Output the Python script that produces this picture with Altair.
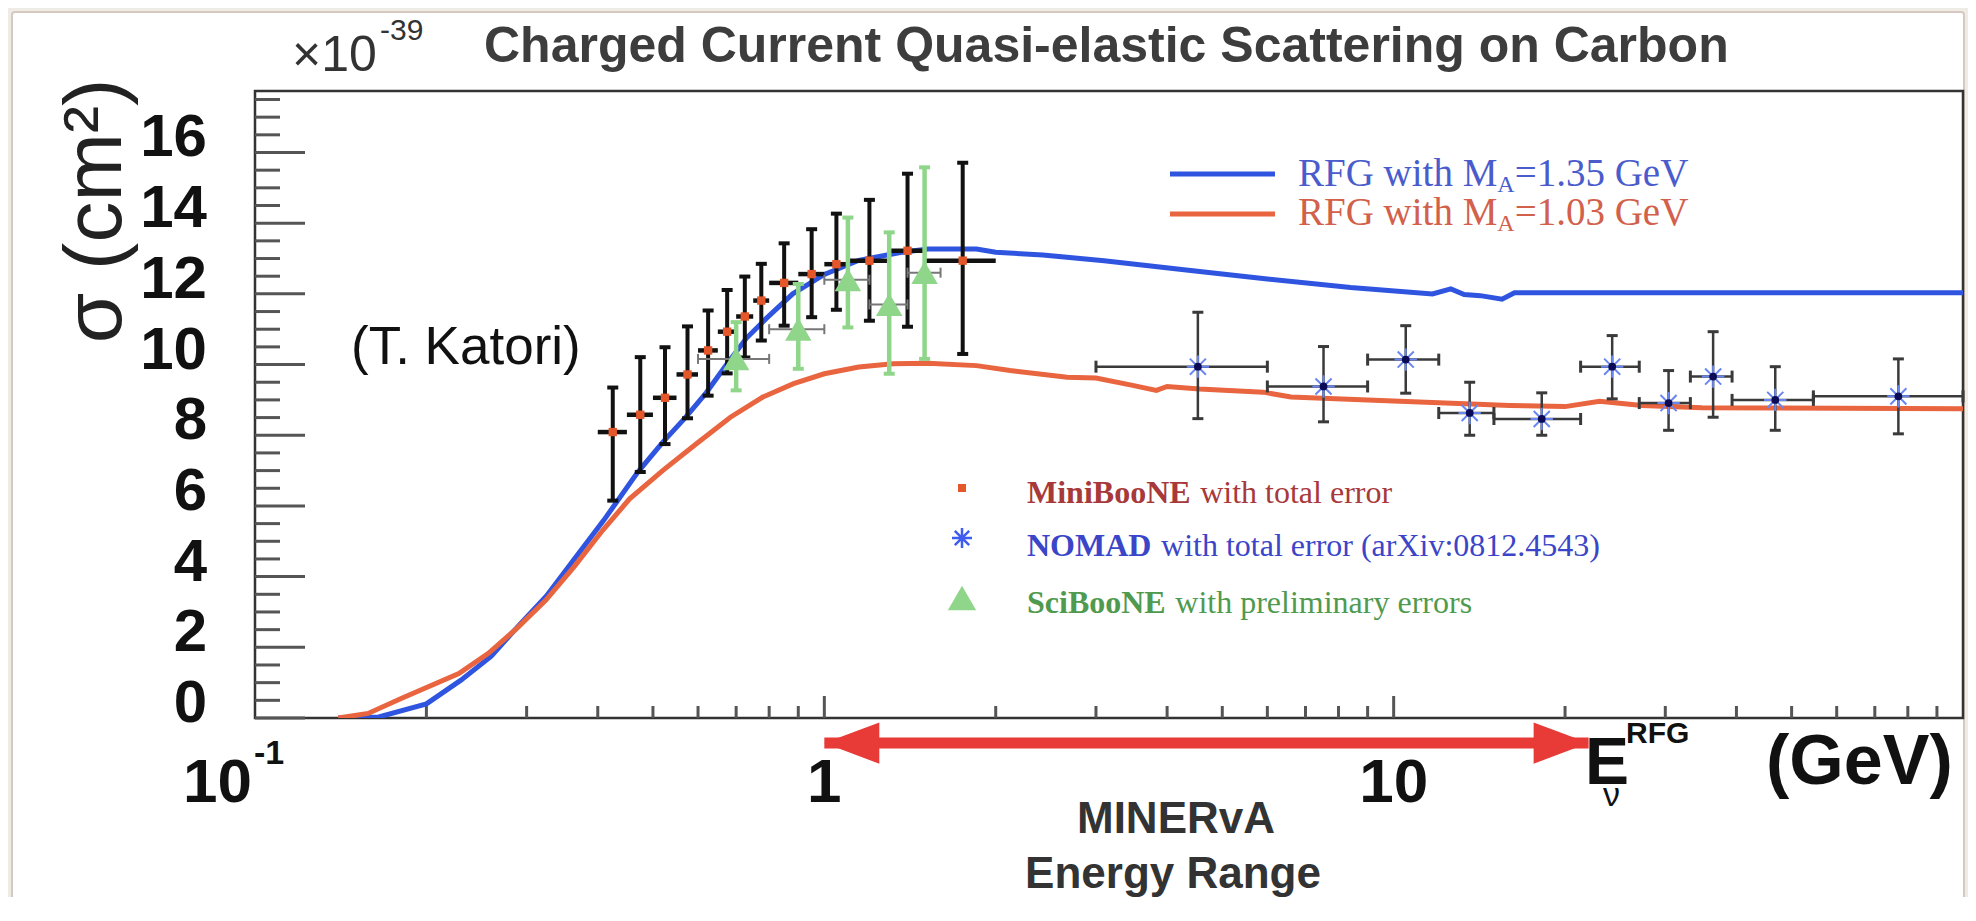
import altair as alt
import pandas as pd

# ---------------- values (sigma in 1e-39 cm^2, E in GeV) ----------------
blue_E = [0.14, 0.165, 0.20, 0.23, 0.26, 0.29, 0.325, 0.36, 0.41, 0.47, 0.52, 0.57, 0.62, 0.67, 0.73,
          0.79, 0.88, 1.0, 1.15, 1.36, 1.52, 1.85, 2.0, 2.42, 3.1, 4.4, 6.0, 8.4, 11.7, 12.6, 13.3,
          14.2, 15.5, 16.3, 100]
blue_sig = [0.0, 0.03, 0.40, 1.07, 1.75, 2.6, 3.45, 4.4, 5.6, 6.95, 7.8, 8.5, 9.2, 9.95, 10.75,
            11.3, 12.0, 12.55, 12.95, 13.17, 13.27, 13.27, 13.18, 13.1, 12.94, 12.66, 12.42, 12.18, 12.0, 12.14,
            11.98, 11.95, 11.85, 12.03, 12.03]
red_E = [0.14, 0.158, 0.181, 0.228, 0.257, 0.288, 0.324, 0.363, 0.408, 0.455, 0.52, 0.596, 0.684, 0.78,
         0.883, 1.0, 1.15, 1.32, 1.52, 1.85, 2.12, 2.67, 3.0, 3.48, 3.83, 4.0, 4.56, 5.9, 6.6, 9.0,
         16.0, 20.0, 23.0, 27.3, 34.8, 100]
red_sig = [0.0, 0.13, 0.56, 1.26, 1.83, 2.53, 3.33, 4.27, 5.31, 6.2, 7.0, 7.76, 8.51, 9.08,
           9.46, 9.74, 9.93, 10.02, 10.04, 9.97, 9.83, 9.64, 9.62, 9.41, 9.27, 9.38, 9.31, 9.22, 9.08, 9.0,
           8.84, 8.81, 8.96, 8.84, 8.78, 8.75]

mb_E = [0.425, 0.475, 0.525, 0.575, 0.625, 0.675, 0.725, 0.775, 0.85, 0.95, 1.05, 1.2, 1.4, 1.75]
mb_Elo = [0.40, 0.45, 0.50, 0.55, 0.60, 0.65, 0.70, 0.75, 0.80, 0.90, 1.0, 1.1, 1.3, 1.5]
mb_Ehi = [0.45, 0.50, 0.55, 0.60, 0.65, 0.70, 0.75, 0.80, 0.90, 1.0, 1.1, 1.3, 1.5, 2.0]
mb_sig = [8.09, 8.58, 9.06, 9.72, 10.40, 10.93, 11.36, 11.81, 12.31, 12.56, 12.84, 12.94, 13.22, 12.94]
mb_lo = [6.15, 6.96, 7.75, 8.48, 9.12, 9.75, 10.2, 10.68, 11.10, 11.34, 11.55, 11.24, 11.07, 10.30]
mb_hi = [9.35, 10.21, 10.49, 11.08, 11.53, 12.11, 12.49, 12.85, 13.43, 13.83, 14.27, 14.66, 15.40, 15.71]

sb_E = [0.70, 0.90, 1.10, 1.30, 1.50]
sb_Elo = [0.60, 0.80, 1.00, 1.20, 1.40]
sb_Ehi = [0.80, 1.00, 1.20, 1.40, 1.60]
sb_sig = [10.16, 11.0, 12.4, 11.7, 12.6]
sb_lo = [9.27, 9.88, 11.05, 9.74, 10.16]
sb_hi = [11.2, 12.28, 14.16, 13.74, 15.58]

nd_E = [4.53, 7.53, 10.5, 13.6, 18.2, 24.2, 30.4, 36.4, 46.8, 77.0]
nd_Elo = [3.0, 6.0, 9.0, 12.0, 15.0, 21.3, 27.0, 33.2, 39.3, 54.6]
nd_Ehi = [6.0, 9.0, 12.0, 15.0, 21.3, 27.0, 33.2, 39.3, 54.6, 100.0]
nd_sig = [9.94, 9.38, 10.14, 8.63, 8.46, 9.94, 8.91, 9.66, 9.00, 9.10]
nd_lo = [8.47, 8.38, 9.19, 8.0, 8.0, 9.03, 8.14, 8.51, 8.14, 8.04]
nd_hi = [11.48, 10.51, 11.10, 9.50, 9.20, 10.82, 9.83, 10.93, 9.94, 10.16]

y_major = [0, 2, 4, 6, 8, 10, 12, 14, 16]
y_minor = [0.5, 1, 1.5, 2.5, 3, 3.5, 4.5, 5, 5.5, 6.5, 7, 7.5, 8.5, 9, 9.5, 10.5, 11, 11.5,
           12.5, 13, 13.5, 14.5, 15, 15.5, 16.5, 17, 17.5]
x_major = [1, 10]
x_minor = [0.2, 0.3, 0.4, 0.5, 0.6, 0.7, 0.8, 0.9, 2, 3, 4, 5, 6, 7, 8, 9,
           20, 30, 40, 50, 60, 70, 80, 90]
x_labels = [1, 10]
arrow_E = [1.0, 22.0]

# ---------------- layout ----------------
X0, Y0 = 255, 91           # plot origin inside the page picture
W, H = 1708, 627
YMAX = 17.74
SANS = "Liberation Sans, Arial, Helvetica, sans-serif"
SERIF = "Liberation Serif, Times New Roman, serif"

xs = alt.Scale(type="log", domain=[0.1, 100])
ys = alt.Scale(domain=[0, YMAX])
X = lambda f: alt.X(f, scale=xs, axis=None)
Y = lambda f: alt.Y(f, scale=ys, axis=None)

one = pd.DataFrame({"a": [0]})


def T(text, x, y, size, weight="normal", color="#111", font=SANS, align="left",
      baseline="alphabetic", angle=None):
    kw = dict(align=align, baseline=baseline, fontSize=size, fontWeight=weight,
              color=color, font=font)
    if angle is not None:
        kw["angle"] = angle
    return alt.Chart(one).mark_text(**kw).encode(
        text=alt.value(text), x=alt.value(x - X0), y=alt.value(y - Y0))


layers = []

# white slide panel
layers.append(alt.Chart(one).mark_rect(fill="white", stroke="#d8c8c2", strokeWidth=2,
                                       cornerRadius=3).encode(
    x=alt.value(12 - X0), x2=alt.value(1964 - X0), y=alt.value(12 - Y0), y2=alt.value(910 - Y0)))

# frame
layers.append(alt.Chart(one).mark_rect(fill=None, stroke="#333", strokeWidth=2.5).encode(
    x=alt.value(0), x2=alt.value(W), y=alt.value(0), y2=alt.value(H)))

# ticks (inside, ROOT style)
layers.append(alt.Chart(pd.DataFrame({"v": y_major})).mark_rule(color="#555", strokeWidth=3).encode(
    y=Y("v:Q"), x=alt.value(0), x2=alt.value(50)))
layers.append(alt.Chart(pd.DataFrame({"v": y_minor})).mark_rule(color="#555", strokeWidth=3).encode(
    y=Y("v:Q"), x=alt.value(0), x2=alt.value(25)))
layers.append(alt.Chart(pd.DataFrame({"v": x_major})).mark_rule(color="#555", strokeWidth=3).encode(
    x=X("v:Q"), y=alt.value(H), y2=alt.value(H - 22)))
layers.append(alt.Chart(pd.DataFrame({"v": x_minor})).mark_rule(color="#555", strokeWidth=3).encode(
    x=X("v:Q"), y=alt.value(H), y2=alt.value(H - 12)))

# tick labels
layers.append(alt.Chart(pd.DataFrame({"v": y_major})).mark_text(
    align="right", baseline="middle", fontSize=60, fontWeight="bold", font=SANS, color="#111", dy=-14).encode(
    y=Y("v:Q"), x=alt.value(207 - X0), text="v:Q"))
layers.append(alt.Chart(pd.DataFrame({"v": x_labels})).mark_text(
    align="center", baseline="alphabetic", fontSize=62, fontWeight="bold", font=SANS, color="#111").encode(
    x=X("v:Q"), y=alt.value(802 - Y0), text="v:Q"))
layers.append(T("10", 252, 802, 62, "bold", align="right"))
layers.append(T("-1", 254, 764, 34, "bold"))

# curves
curves = pd.DataFrame({"E": blue_E + red_E, "s": blue_sig + red_sig,
                       "m": ["b"] * len(blue_E) + ["r"] * len(red_E)})
layers.append(alt.Chart(curves).mark_line(strokeWidth=5, clip=True).encode(
    x=X("E:Q"), y=Y("s:Q"), detail="m:N",
    color=alt.Color("m:N", scale=alt.Scale(domain=["b", "r"], range=["#2f55e0", "#e8653f"]), legend=None)))

# NOMAD
nd = pd.DataFrame({"E": nd_E, "lo": nd_Elo, "hi": nd_Ehi, "s": nd_sig, "slo": nd_lo, "shi": nd_hi})
ndc = pd.DataFrame({"E": nd_E + nd_E, "s": nd_lo + nd_hi})
ndh = pd.DataFrame({"E": nd_Elo + nd_Ehi, "s": nd_sig + nd_sig})
layers.append(alt.Chart(nd).mark_rule(color="#3a3a3a", strokeWidth=2.5).encode(
    x=X("E:Q"), y=Y("slo:Q"), y2="shi:Q"))
layers.append(alt.Chart(nd).mark_rule(color="#3a3a3a", strokeWidth=2.5).encode(
    x=X("lo:Q"), x2="hi:Q", y=Y("s:Q")))
layers.append(alt.Chart(ndc).mark_point(shape="M-1,0L1,0", filled=False, size=121, strokeWidth=3,
                                        color="#3a3a3a", opacity=1).encode(x=X("E:Q"), y=Y("s:Q")))
layers.append(alt.Chart(ndh).mark_point(shape="M0,-1L0,1", filled=False, size=144, strokeWidth=3,
                                        color="#3a3a3a", opacity=1).encode(x=X("E:Q"), y=Y("s:Q")))
STAR = "M-1,0L1,0M0,-1L0,1M-0.72,-0.72L0.72,0.72M-0.72,0.72L0.72,-0.72"
layers.append(alt.Chart(nd).mark_point(shape=STAR, filled=False, size=500, strokeWidth=2,
                                       color="#6a86f2", opacity=1).encode(x=X("E:Q"), y=Y("s:Q")))
layers.append(alt.Chart(nd).mark_circle(size=60, color="#0b0b55", opacity=1).encode(
    x=X("E:Q"), y=Y("s:Q")))

# MiniBooNE
mb = pd.DataFrame({"E": mb_E, "lo": mb_Elo, "hi": mb_Ehi, "s": mb_sig, "slo": mb_lo, "shi": mb_hi})
mbc = pd.DataFrame({"E": mb_E + mb_E, "s": mb_lo + mb_hi})
layers.append(alt.Chart(mb).mark_rule(color="#111", strokeWidth=4).encode(
    x=X("E:Q"), y=Y("slo:Q"), y2="shi:Q"))
layers.append(alt.Chart(mb).mark_rule(color="#111", strokeWidth=4.5).encode(
    x=X("lo:Q"), x2="hi:Q", y=Y("s:Q")))
layers.append(alt.Chart(mbc).mark_point(shape="M-1,0L1,0", filled=False, size=121, strokeWidth=4,
                                        color="#111", opacity=1).encode(x=X("E:Q"), y=Y("s:Q")))

# SciBooNE
sb = pd.DataFrame({"E": sb_E, "lo": sb_Elo, "hi": sb_Ehi, "s": sb_sig, "slo": sb_lo, "shi": sb_hi})
sbc = pd.DataFrame({"E": sb_E + sb_E, "s": sb_lo + sb_hi})
sbh = pd.DataFrame({"E": sb_Elo + sb_Ehi, "s": sb_sig + sb_sig})
layers.append(alt.Chart(sb).mark_rule(color="#777", strokeWidth=2).encode(
    x=X("lo:Q"), x2="hi:Q", y=Y("s:Q")))
layers.append(alt.Chart(sbh).mark_point(shape="M0,-1L0,1", filled=False, size=100, strokeWidth=2,
                                        color="#777", opacity=1).encode(x=X("E:Q"), y=Y("s:Q")))
layers.append(alt.Chart(sb).mark_rule(color="#8fd68a", strokeWidth=4.5).encode(
    x=X("E:Q"), y=Y("slo:Q"), y2="shi:Q"))
layers.append(alt.Chart(sbc).mark_point(shape="M-1,0L1,0", filled=False, size=121, strokeWidth=4,
                                        color="#8fd68a", opacity=1).encode(x=X("E:Q"), y=Y("s:Q")))
layers.append(alt.Chart(sb).mark_point(shape="triangle-up", filled=True, size=700,
                                       color="#8fd68a", opacity=1).encode(x=X("E:Q"), y=Y("s:Q")))

# MiniBooNE central markers on top
layers.append(alt.Chart(mb).mark_square(size=70, color="#e4572a", opacity=1).encode(
    x=X("E:Q"), y=Y("s:Q")))

# MINERvA energy-range arrow
AY = 743 - Y0
ar = pd.DataFrame({"E": arrow_E})
layers.append(alt.Chart(ar).mark_line(color="#e83a36", strokeWidth=11).encode(
    x=X("E:Q"), y=alt.value(AY)))
ar_l = pd.DataFrame({"E": arrow_E[:1]})
ar_r = pd.DataFrame({"E": arrow_E[1:]})
layers.append(alt.Chart(ar_l).mark_point(shape="M0,0L2,-0.75L2,0.75Z", filled=True, size=3025,
                                         color="#e83a36", opacity=1).encode(x=X("E:Q"), y=alt.value(AY)))
layers.append(alt.Chart(ar_r).mark_point(shape="M0,0L-2,-0.75L-2,0.75Z", filled=True, size=3025,
                                         color="#e83a36", opacity=1).encode(x=X("E:Q"), y=alt.value(AY)))

# top-right legend (model curves)
layers.append(alt.Chart(one).mark_rule(color="#2f55e0", strokeWidth=5).encode(
    x=alt.value(1170 - X0), x2=alt.value(1275 - X0), y=alt.value(174 - Y0)))
layers.append(alt.Chart(one).mark_rule(color="#e8653f", strokeWidth=5).encode(
    x=alt.value(1170 - X0), x2=alt.value(1275 - X0), y=alt.value(214 - Y0)))
LS = 39
wM = (667 + 556 + 722 + 250 + 722 + 278 + 278 + 500 + 250 + 889) / 1000 * LS   # "RFG with M" (Times metrics)
wA = 722 / 1000 * 24
for yb, val, col in [(186, "=1.35 GeV", "#4a5ccc"), (225, "=1.03 GeV", "#d2604a")]:
    layers.append(T("RFG with M", 1298, yb, LS, color=col, font=SERIF))
    layers.append(T("A", 1298 + wM, yb + 6, 24, color=col, font=SERIF))
    layers.append(T(val, 1298 + wM + wA, yb, LS, color=col, font=SERIF))

# bottom legend (data sets)
layers.append(alt.Chart(one).mark_square(size=64, color="#e4572a", opacity=1).encode(
    x=alt.value(962 - X0), y=alt.value(488 - Y0)))
layers.append(alt.Chart(one).mark_point(shape=STAR, filled=False, size=400, strokeWidth=2.5,
                                        color="#3e5cf0", opacity=1).encode(
    x=alt.value(962 - X0), y=alt.value(538 - Y0)))
layers.append(alt.Chart(one).mark_point(shape="triangle-up", filled=True, size=800,
                                        color="#8fd68a", opacity=1).encode(
    x=alt.value(962 - X0), y=alt.value(598 - Y0)))
LB = 32
for yb, bold, rest, col, wb in [
        (503, "MiniBooNE", "with total error", "#a8393a", 5112),
        (556, "NOMAD", "with total error (arXiv:0812.4543)", "#3b45c8", 3888),
        (613, "SciBooNE", "with preliminary errors", "#4f9a4f", 4334)]:
    layers.append(T(bold, 1027, yb, LB, "bold", color=col, font=SERIF))
    layers.append(T(rest, 1027 + (wb + 300) / 1000 * LB, yb, LB, color=col, font=SERIF))

# titles and annotations
layers.append(T("\u00d710", 292, 71, 50, color="#333"))
layers.append(T("-39", 380, 40, 30, color="#333"))
layers.append(T("Charged Current Quasi-elastic Scattering on Carbon", 484, 62, 50, "bold", color="#3d3d3d"))
layers.append(T("(T. Katori)", 351, 364, 53, color="#111"))
layers.append(T("\u03c3 (cm\u00b2)", 96, 211, 82, color="#222", align="center", baseline="middle", angle=270))
layers.append(T("E", 1585, 784, 66, "bold"))
layers.append(T("\u03bd", 1603, 806, 34))
layers.append(T("RFG", 1626, 743, 30, "bold"))
layers.append(T("(GeV)", 1766, 784, 70, "bold"))
layers.append(T("MINERvA", 1176, 833, 44, "bold", color="#333", align="center"))
layers.append(T("Energy Range", 1173, 888, 44, "bold", color="#333", align="center"))

chart = alt.layer(*layers).properties(
    width=W, height=H,
    autosize=alt.AutoSizeParams(type="none"),
    padding={"left": X0 - 8, "top": Y0 - 8, "right": 5, "bottom": 905 - 8 - Y0 - H},
).configure(background="#efebe5").configure_view(stroke=None)

chart.save("out.html", embed_options={"renderer": "svg", "actions": False})
